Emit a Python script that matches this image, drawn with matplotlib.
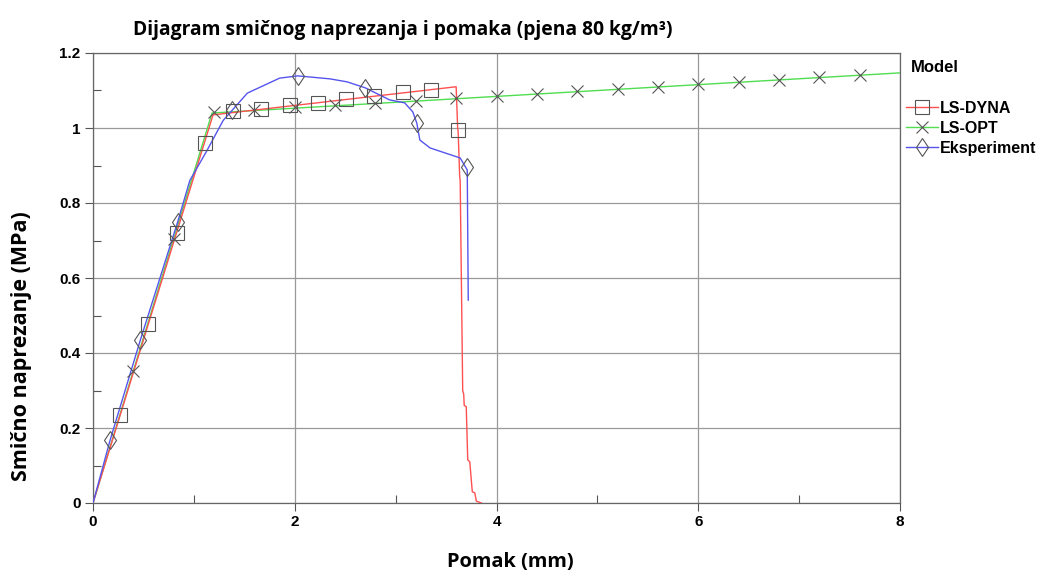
import matplotlib.pyplot as plt
from matplotlib.lines import Line2D
from matplotlib.ticker import MultipleLocator

# LS-DYNA (red line, square markers)
dyna_x = [0.0, 1.19, 3.60, 3.615, 3.62, 3.635, 3.64, 3.665, 3.675, 3.68, 3.70, 3.715, 3.735, 3.76, 3.785, 3.80, 3.85]
dyna_y = [0.0, 1.035, 1.110, 1.0, 0.99, 0.87, 0.86, 0.30, 0.29, 0.26, 0.257, 0.115, 0.11, 0.03, 0.027, 0.005, 0.0]
dyna_mx = [0.27, 0.55, 0.83, 1.11, 1.39, 1.67, 1.95, 2.23, 2.51, 2.79, 3.07, 3.35, 3.62]
dyna_my = [0.235, 0.478, 0.72, 0.96, 1.045, 1.051, 1.062, 1.068, 1.077, 1.085, 1.096, 1.101, 0.995]

# LS-OPT (green line, x markers)
opt_x = [0.0, 1.18, 8.0]
opt_y = [0.0, 1.04, 1.147]
opt_mx = [0.4, 0.8, 1.2, 1.6, 2.0, 2.4, 2.8, 3.2, 3.6, 4.0, 4.4, 4.8, 5.2, 5.6, 6.0, 6.4, 6.8, 7.2, 7.6]
opt_my = [0.353, 0.705, 1.043, 1.048, 1.055, 1.061, 1.067, 1.073, 1.079, 1.085, 1.091, 1.098, 1.104, 1.11, 1.116, 1.122, 1.129, 1.135, 1.141]

# Eksperiment (blue line, diamond markers)
exp_x = [0.0, 0.17, 0.47, 0.84, 0.96, 1.13, 1.29, 1.53, 1.85, 2.03, 2.35, 2.52, 2.70, 2.94, 3.09, 3.17, 3.21,
         3.24, 3.34, 3.64, 3.71, 3.72]
exp_y = [0.0, 0.168, 0.435, 0.75, 0.86, 0.94, 1.02, 1.093, 1.133, 1.139, 1.131, 1.123, 1.107, 1.075, 1.067,
         1.043, 1.013, 0.968, 0.947, 0.92, 0.888, 0.541]
exp_mx = [0.17, 0.47, 0.84, 1.38, 2.03, 2.70, 3.21, 3.71]
exp_my = [0.168, 0.435, 0.75, 1.048, 1.139, 1.107, 1.013, 0.896]

W, H = 1047, 576
fig = plt.figure(figsize=(W / 100, H / 100), dpi=100)
ax = fig.add_axes([93 / W, 1 - 503 / H, 807 / W, 450 / H])

red, green, blue = '#ff5050', '#50dd50', '#5555ee'
mk = dict(linestyle='none', markerfacecolor='none', markeredgecolor='#555555', markeredgewidth=0.8)

ax.plot(opt_x, opt_y, color=green, lw=1, zorder=3)
ax.plot(dyna_x, dyna_y, color=red, lw=1, zorder=3)
ax.plot(exp_x, exp_y, color=blue, lw=1, zorder=3)
ax.plot(dyna_mx, dyna_my, marker='s', markersize=10.5, zorder=4, **mk)
ax.plot(opt_mx, opt_my, marker='x', markersize=9, zorder=4, **mk)
ax.plot(exp_mx, exp_my, marker='d', markersize=9.5, zorder=4, **mk)

ax.set_xlim(0, 8)
ax.set_ylim(0, 1.2)
ax.xaxis.set_minor_locator(MultipleLocator(1))
ax.yaxis.set_minor_locator(MultipleLocator(0.1))
ax.set_xticks([0, 2, 4, 6, 8])
ax.set_xticklabels(['0', '2', '4', '6', '8'])
ax.set_yticks([0, 0.2, 0.4, 0.6, 0.8, 1.0, 1.2])
ax.set_yticklabels(['0', '0.2', '0.4', '0.6', '0.8', '1', '1.2'])
for lab in ax.get_xticklabels() + ax.get_yticklabels():
    lab.set_fontfamily('Liberation Sans')
    lab.set_fontweight('bold')
    lab.set_fontsize(11)
ax.tick_params(which='major', direction='out', length=6, width=0.8, color='#555555', pad=3)
ax.tick_params(which='minor', direction='in', length=6, width=0.8, color='#555555')
ax.grid(True, which='major', color='#999999', lw=0.9)
for s in ax.spines.values():
    s.set_color('#666666')
    s.set_linewidth(0.9)

fig.text(133 / W, 1 - 30 / H, 'Dijagram smičnog naprezanja i pomaka (pjena 80 kg/m³)',
         fontfamily='Open Sans', fontweight='bold', fontsize=13.9, va='center', ha='left')
fig.text(510 / W, 1 - 562 / H, 'Pomak (mm)', fontfamily='Open Sans', fontweight='bold',
         fontsize=14.4, ha='center', va='center')
fig.text(22 / W, 1 - 346 / H, 'Smično naprezanje (MPa)', fontfamily='Open Sans', fontweight='bold',
         fontsize=15.5, rotation=90, ha='center', va='center')

fig.text(911 / W, 1 - 67 / H, 'Model', fontfamily='Liberation Sans', fontweight='bold',
         fontsize=12, va='center', ha='left')
handles = [
    Line2D([], [], color=red, lw=1, marker='s', markersize=10.5, markerfacecolor='none', markeredgecolor='#555555', markeredgewidth=0.8),
    Line2D([], [], color=green, lw=1, marker='x', markersize=9, markeredgecolor='#555555', markeredgewidth=0.8),
    Line2D([], [], color=blue, lw=1, marker='d', markersize=9.5, markerfacecolor='none', markeredgecolor='#555555', markeredgewidth=0.8),
]
fig.legend(handles, ['LS-DYNA', 'LS-OPT', 'Eksperiment'], loc='upper left',
           bbox_to_anchor=(906 / W, 1 - 101 / H), frameon=False, handlelength=2.0,
           handletextpad=0.1, labelspacing=0.3, borderaxespad=0, borderpad=0,
           prop={'family': 'Liberation Sans', 'weight': 'bold', 'size': 11.5})

fig.savefig('out.png', dpi=100)
